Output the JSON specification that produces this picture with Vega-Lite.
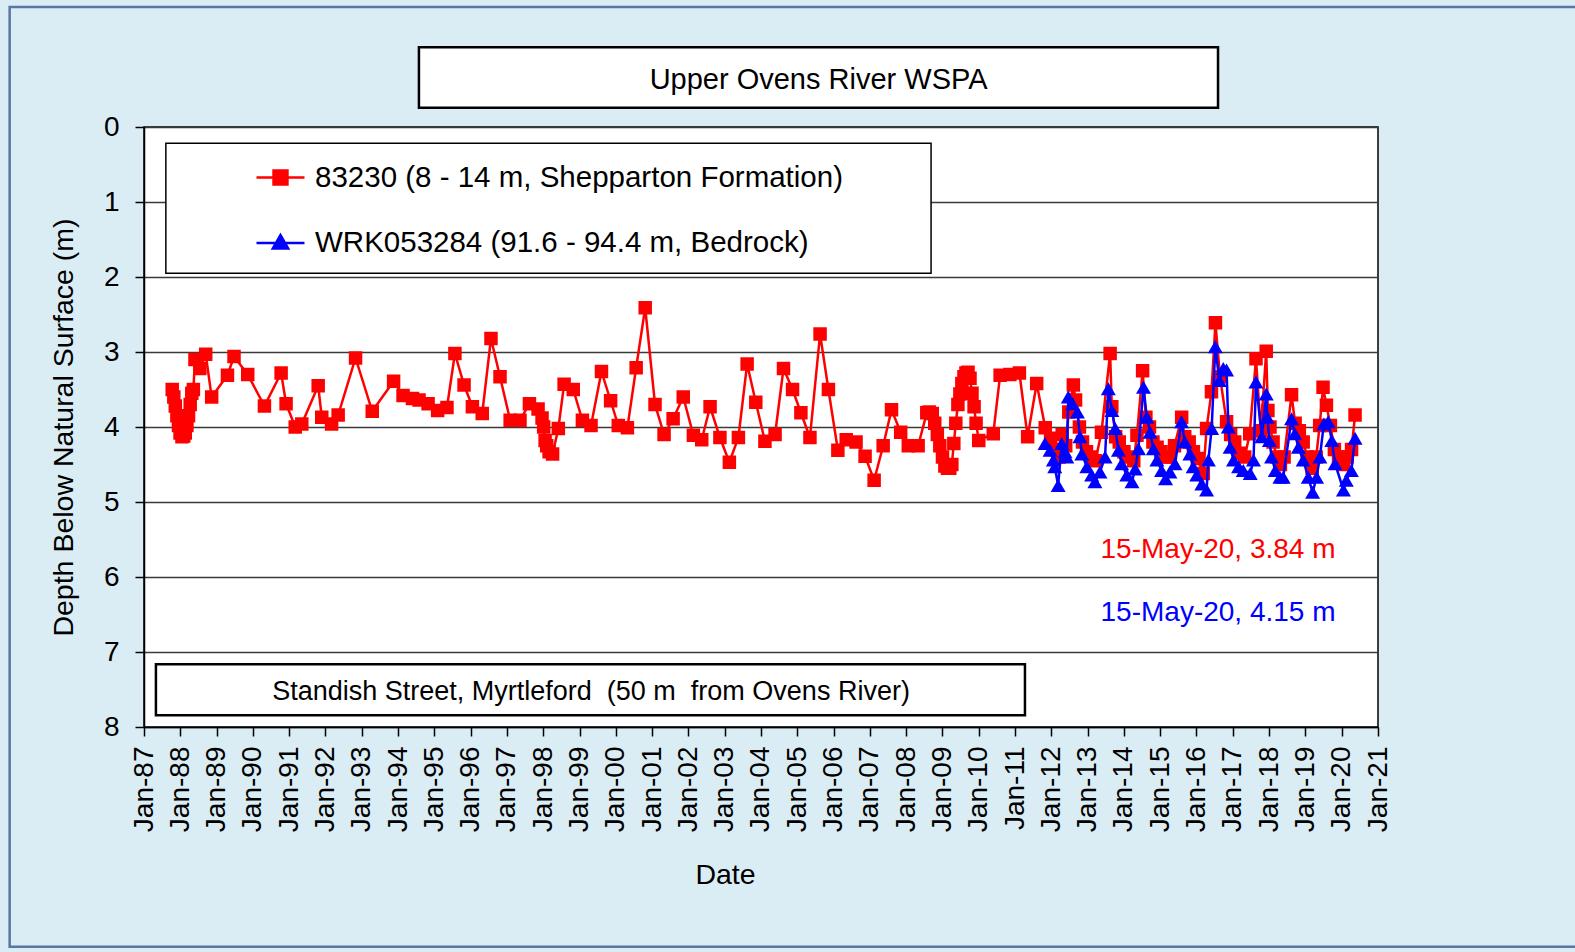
{
  "$schema": "https://vega.github.io/schema/vega-lite/v6.json",
  "width": 1234,
  "height": 600,
  "autosize": {"type": "none"},
  "padding": {"left": 144, "top": 127, "right": 197, "bottom": 225},
  "background": "#DBEDF4",
  "config": {
    "view": {"fill": "white", "stroke": "black", "strokeWidth": 1.5},
    "font": "Liberation Sans",
    "axis": {"labelFont": "Liberation Sans", "titleFont": "Liberation Sans", "labelColor": "black", "titleColor": "black", "titleFontWeight": "normal", "tickColor": "black", "domainColor": "black", "domainWidth": 1.5, "tickWidth": 1.5}
  },
  "datasets": {
    "obs": [
      {"well": "83230", "date": "1987-10-12", "depth": 3.50},
      {"well": "83230", "date": "1987-10-28", "depth": 3.60},
      {"well": "83230", "date": "1987-11-12", "depth": 3.72},
      {"well": "83230", "date": "1987-11-28", "depth": 3.85},
      {"well": "83230", "date": "1987-12-14", "depth": 3.98},
      {"well": "83230", "date": "1987-12-30", "depth": 4.08},
      {"well": "83230", "date": "1988-01-18", "depth": 4.13},
      {"well": "83230", "date": "1988-02-05", "depth": 4.12},
      {"well": "83230", "date": "1988-02-20", "depth": 4.08},
      {"well": "83230", "date": "1988-03-08", "depth": 3.98},
      {"well": "83230", "date": "1988-03-24", "depth": 3.85},
      {"well": "83230", "date": "1988-04-10", "depth": 3.70},
      {"well": "83230", "date": "1988-04-26", "depth": 3.55},
      {"well": "83230", "date": "1988-05-12", "depth": 3.50},
      {"well": "83230", "date": "1988-05-28", "depth": 3.10},
      {"well": "83230", "date": "1988-07-16", "depth": 3.22},
      {"well": "83230", "date": "1988-09-13", "depth": 3.03},
      {"well": "83230", "date": "1988-11-12", "depth": 3.60},
      {"well": "83230", "date": "1989-04-20", "depth": 3.31},
      {"well": "83230", "date": "1989-06-25", "depth": 3.06},
      {"well": "83230", "date": "1989-11-10", "depth": 3.30},
      {"well": "83230", "date": "1990-04-27", "depth": 3.72},
      {"well": "83230", "date": "1990-10-12", "depth": 3.28},
      {"well": "83230", "date": "1990-12-01", "depth": 3.69},
      {"well": "83230", "date": "1991-03-03", "depth": 4.00},
      {"well": "83230", "date": "1991-05-08", "depth": 3.96},
      {"well": "83230", "date": "1991-10-20", "depth": 3.45},
      {"well": "83230", "date": "1991-11-25", "depth": 3.87},
      {"well": "83230", "date": "1992-03-03", "depth": 3.96},
      {"well": "83230", "date": "1992-05-08", "depth": 3.84},
      {"well": "83230", "date": "1992-10-30", "depth": 3.08},
      {"well": "83230", "date": "1993-04-16", "depth": 3.79},
      {"well": "83230", "date": "1993-11-17", "depth": 3.39},
      {"well": "83230", "date": "1994-02-20", "depth": 3.58},
      {"well": "83230", "date": "1994-05-26", "depth": 3.62},
      {"well": "83230", "date": "1994-07-31", "depth": 3.64},
      {"well": "83230", "date": "1994-10-30", "depth": 3.69},
      {"well": "83230", "date": "1995-02-03", "depth": 3.78},
      {"well": "83230", "date": "1995-05-08", "depth": 3.74},
      {"well": "83230", "date": "1995-07-27", "depth": 3.02},
      {"well": "83230", "date": "1995-10-27", "depth": 3.44},
      {"well": "83230", "date": "1996-01-19", "depth": 3.73},
      {"well": "83230", "date": "1996-04-27", "depth": 3.82},
      {"well": "83230", "date": "1996-07-24", "depth": 2.82},
      {"well": "83230", "date": "1996-10-23", "depth": 3.33},
      {"well": "83230", "date": "1997-02-02", "depth": 3.91},
      {"well": "83230", "date": "1997-05-12", "depth": 3.91},
      {"well": "83230", "date": "1997-08-15", "depth": 3.69},
      {"well": "83230", "date": "1997-11-10", "depth": 3.76},
      {"well": "83230", "date": "1997-12-20", "depth": 3.88},
      {"well": "83230", "date": "1998-01-05", "depth": 4.00},
      {"well": "83230", "date": "1998-01-20", "depth": 4.18},
      {"well": "83230", "date": "1998-02-05", "depth": 4.25},
      {"well": "83230", "date": "1998-03-01", "depth": 4.33},
      {"well": "83230", "date": "1998-04-05", "depth": 4.36},
      {"well": "83230", "date": "1998-06-02", "depth": 4.02},
      {"well": "83230", "date": "1998-07-30", "depth": 3.43},
      {"well": "83230", "date": "1998-10-30", "depth": 3.50},
      {"well": "83230", "date": "1999-01-30", "depth": 3.91},
      {"well": "83230", "date": "1999-04-27", "depth": 3.98},
      {"well": "83230", "date": "1999-08-10", "depth": 3.26},
      {"well": "83230", "date": "1999-11-10", "depth": 3.65},
      {"well": "83230", "date": "2000-01-26", "depth": 3.98},
      {"well": "83230", "date": "2000-04-27", "depth": 4.01},
      {"well": "83230", "date": "2000-07-24", "depth": 3.21},
      {"well": "83230", "date": "2000-10-23", "depth": 2.41},
      {"well": "83230", "date": "2001-01-30", "depth": 3.70},
      {"well": "83230", "date": "2001-05-01", "depth": 4.10},
      {"well": "83230", "date": "2001-07-31", "depth": 3.89},
      {"well": "83230", "date": "2001-11-10", "depth": 3.60},
      {"well": "83230", "date": "2002-02-20", "depth": 4.11},
      {"well": "83230", "date": "2002-05-15", "depth": 4.17},
      {"well": "83230", "date": "2002-08-07", "depth": 3.73},
      {"well": "83230", "date": "2002-11-14", "depth": 4.14},
      {"well": "83230", "date": "2003-02-17", "depth": 4.47},
      {"well": "83230", "date": "2003-05-19", "depth": 4.14},
      {"well": "83230", "date": "2003-08-15", "depth": 3.16},
      {"well": "83230", "date": "2003-11-10", "depth": 3.67},
      {"well": "83230", "date": "2004-02-10", "depth": 4.19},
      {"well": "83230", "date": "2004-05-22", "depth": 4.10},
      {"well": "83230", "date": "2004-08-15", "depth": 3.22},
      {"well": "83230", "date": "2004-11-14", "depth": 3.50},
      {"well": "83230", "date": "2005-02-06", "depth": 3.81},
      {"well": "83230", "date": "2005-05-08", "depth": 4.14},
      {"well": "83230", "date": "2005-08-18", "depth": 2.76},
      {"well": "83230", "date": "2005-11-10", "depth": 3.50},
      {"well": "83230", "date": "2006-02-13", "depth": 4.31},
      {"well": "83230", "date": "2006-05-08", "depth": 4.17},
      {"well": "83230", "date": "2006-08-15", "depth": 4.20},
      {"well": "83230", "date": "2006-11-14", "depth": 4.39},
      {"well": "83230", "date": "2007-02-13", "depth": 4.71},
      {"well": "83230", "date": "2007-05-15", "depth": 4.25},
      {"well": "83230", "date": "2007-08-07", "depth": 3.77},
      {"well": "83230", "date": "2007-11-07", "depth": 4.07},
      {"well": "83230", "date": "2008-01-23", "depth": 4.25},
      {"well": "83230", "date": "2008-05-01", "depth": 4.25},
      {"well": "83230", "date": "2008-07-27", "depth": 3.81},
      {"well": "83230", "date": "2008-08-20", "depth": 3.80},
      {"well": "83230", "date": "2008-09-20", "depth": 3.82},
      {"well": "83230", "date": "2008-10-15", "depth": 3.95},
      {"well": "83230", "date": "2008-11-10", "depth": 4.10},
      {"well": "83230", "date": "2008-12-05", "depth": 4.25},
      {"well": "83230", "date": "2009-01-01", "depth": 4.40},
      {"well": "83230", "date": "2009-01-25", "depth": 4.52},
      {"well": "83230", "date": "2009-02-20", "depth": 4.55},
      {"well": "83230", "date": "2009-03-15", "depth": 4.55},
      {"well": "83230", "date": "2009-04-05", "depth": 4.50},
      {"well": "83230", "date": "2009-04-25", "depth": 4.22},
      {"well": "83230", "date": "2009-05-15", "depth": 3.95},
      {"well": "83230", "date": "2009-06-05", "depth": 3.70},
      {"well": "83230", "date": "2009-06-25", "depth": 3.56},
      {"well": "83230", "date": "2009-07-15", "depth": 3.42},
      {"well": "83230", "date": "2009-08-05", "depth": 3.33},
      {"well": "83230", "date": "2009-08-25", "depth": 3.28},
      {"well": "83230", "date": "2009-09-15", "depth": 3.27},
      {"well": "83230", "date": "2009-10-05", "depth": 3.35},
      {"well": "83230", "date": "2009-10-25", "depth": 3.55},
      {"well": "83230", "date": "2009-11-15", "depth": 3.73},
      {"well": "83230", "date": "2009-12-05", "depth": 3.95},
      {"well": "83230", "date": "2010-01-01", "depth": 4.18},
      {"well": "83230", "date": "2010-05-27", "depth": 4.09},
      {"well": "83230", "date": "2010-08-04", "depth": 3.31},
      {"well": "83230", "date": "2010-11-10", "depth": 3.30},
      {"well": "83230", "date": "2011-02-14", "depth": 3.28},
      {"well": "83230", "date": "2011-05-08", "depth": 4.13},
      {"well": "83230", "date": "2011-08-07", "depth": 3.42},
      {"well": "83230", "date": "2011-11-01", "depth": 4.01},
      {"well": "83230", "date": "2011-12-25", "depth": 4.15},
      {"well": "83230", "date": "2012-02-10", "depth": 4.30},
      {"well": "83230", "date": "2012-03-20", "depth": 4.40},
      {"well": "83230", "date": "2012-04-20", "depth": 4.10},
      {"well": "83230", "date": "2012-05-25", "depth": 4.25},
      {"well": "83230", "date": "2012-06-25", "depth": 3.80},
      {"well": "83230", "date": "2012-08-10", "depth": 3.44},
      {"well": "83230", "date": "2012-09-01", "depth": 3.64},
      {"well": "83230", "date": "2012-10-10", "depth": 4.00},
      {"well": "83230", "date": "2012-11-10", "depth": 4.20},
      {"well": "83230", "date": "2012-12-20", "depth": 4.33},
      {"well": "83230", "date": "2013-02-10", "depth": 4.40},
      {"well": "83230", "date": "2013-03-20", "depth": 4.45},
      {"well": "83230", "date": "2013-05-20", "depth": 4.07},
      {"well": "83230", "date": "2013-08-15", "depth": 3.02},
      {"well": "83230", "date": "2013-09-01", "depth": 3.73},
      {"well": "83230", "date": "2013-10-10", "depth": 4.13},
      {"well": "83230", "date": "2013-11-15", "depth": 4.20},
      {"well": "83230", "date": "2014-01-01", "depth": 4.33},
      {"well": "83230", "date": "2014-02-15", "depth": 4.40},
      {"well": "83230", "date": "2014-04-10", "depth": 4.45},
      {"well": "83230", "date": "2014-05-12", "depth": 4.11},
      {"well": "83230", "date": "2014-07-08", "depth": 3.25},
      {"well": "83230", "date": "2014-08-10", "depth": 3.87},
      {"well": "83230", "date": "2014-09-15", "depth": 4.00},
      {"well": "83230", "date": "2014-10-20", "depth": 4.20},
      {"well": "83230", "date": "2014-12-01", "depth": 4.27},
      {"well": "83230", "date": "2015-01-10", "depth": 4.33},
      {"well": "83230", "date": "2015-02-20", "depth": 4.40},
      {"well": "83230", "date": "2015-04-10", "depth": 4.40},
      {"well": "83230", "date": "2015-05-25", "depth": 4.25},
      {"well": "83230", "date": "2015-08-05", "depth": 3.87},
      {"well": "83230", "date": "2015-09-05", "depth": 4.13},
      {"well": "83230", "date": "2015-10-20", "depth": 4.20},
      {"well": "83230", "date": "2015-12-01", "depth": 4.33},
      {"well": "83230", "date": "2016-01-10", "depth": 4.42},
      {"well": "83230", "date": "2016-03-10", "depth": 4.62},
      {"well": "83230", "date": "2016-04-12", "depth": 4.02},
      {"well": "83230", "date": "2016-05-31", "depth": 3.53},
      {"well": "83230", "date": "2016-07-10", "depth": 2.61},
      {"well": "83230", "date": "2016-08-25", "depth": 3.33},
      {"well": "83230", "date": "2016-10-30", "depth": 3.93},
      {"well": "83230", "date": "2016-12-10", "depth": 4.10},
      {"well": "83230", "date": "2017-01-20", "depth": 4.20},
      {"well": "83230", "date": "2017-03-10", "depth": 4.35},
      {"well": "83230", "date": "2017-05-01", "depth": 4.40},
      {"well": "83230", "date": "2017-06-20", "depth": 4.09},
      {"well": "83230", "date": "2017-08-22", "depth": 3.09},
      {"well": "83230", "date": "2017-10-10", "depth": 4.05},
      {"well": "83230", "date": "2017-12-03", "depth": 2.99},
      {"well": "83230", "date": "2017-12-20", "depth": 3.78},
      {"well": "83230", "date": "2018-01-10", "depth": 4.00},
      {"well": "83230", "date": "2018-02-10", "depth": 4.20},
      {"well": "83230", "date": "2018-03-20", "depth": 4.40},
      {"well": "83230", "date": "2018-04-25", "depth": 4.50},
      {"well": "83230", "date": "2018-06-01", "depth": 4.40},
      {"well": "83230", "date": "2018-08-15", "depth": 3.57},
      {"well": "83230", "date": "2018-09-20", "depth": 3.95},
      {"well": "83230", "date": "2018-11-01", "depth": 4.05},
      {"well": "83230", "date": "2018-12-10", "depth": 4.20},
      {"well": "83230", "date": "2019-01-20", "depth": 4.40},
      {"well": "83230", "date": "2019-03-10", "depth": 4.55},
      {"well": "83230", "date": "2019-04-20", "depth": 4.40},
      {"well": "83230", "date": "2019-05-25", "depth": 3.98},
      {"well": "83230", "date": "2019-06-28", "depth": 3.47},
      {"well": "83230", "date": "2019-08-01", "depth": 3.71},
      {"well": "83230", "date": "2019-09-10", "depth": 3.98},
      {"well": "83230", "date": "2019-10-20", "depth": 4.30},
      {"well": "83230", "date": "2019-12-01", "depth": 4.40},
      {"well": "83230", "date": "2020-01-20", "depth": 4.50},
      {"well": "83230", "date": "2020-02-25", "depth": 4.40},
      {"well": "83230", "date": "2020-04-10", "depth": 4.30},
      {"well": "83230", "date": "2020-05-15", "depth": 3.84},
      {"well": "WRK053284", "date": "2011-10-30", "depth": 4.22},
      {"well": "WRK053284", "date": "2011-12-20", "depth": 4.31},
      {"well": "WRK053284", "date": "2012-01-22", "depth": 4.44},
      {"well": "WRK053284", "date": "2012-02-05", "depth": 4.53},
      {"well": "WRK053284", "date": "2012-03-10", "depth": 4.78},
      {"well": "WRK053284", "date": "2012-04-15", "depth": 4.22},
      {"well": "WRK053284", "date": "2012-05-18", "depth": 4.33},
      {"well": "WRK053284", "date": "2012-06-05", "depth": 4.40},
      {"well": "WRK053284", "date": "2012-06-20", "depth": 3.60},
      {"well": "WRK053284", "date": "2012-08-03", "depth": 3.69},
      {"well": "WRK053284", "date": "2012-09-20", "depth": 3.80},
      {"well": "WRK053284", "date": "2012-10-15", "depth": 4.13},
      {"well": "WRK053284", "date": "2012-11-03", "depth": 4.36},
      {"well": "WRK053284", "date": "2012-12-24", "depth": 4.53},
      {"well": "WRK053284", "date": "2013-02-10", "depth": 4.64},
      {"well": "WRK053284", "date": "2013-03-15", "depth": 4.73},
      {"well": "WRK053284", "date": "2013-05-05", "depth": 4.60},
      {"well": "WRK053284", "date": "2013-06-25", "depth": 4.40},
      {"well": "WRK053284", "date": "2013-07-28", "depth": 3.49},
      {"well": "WRK053284", "date": "2013-09-02", "depth": 3.78},
      {"well": "WRK053284", "date": "2013-10-05", "depth": 4.02},
      {"well": "WRK053284", "date": "2013-11-07", "depth": 4.31},
      {"well": "WRK053284", "date": "2013-12-09", "depth": 4.49},
      {"well": "WRK053284", "date": "2014-01-30", "depth": 4.64},
      {"well": "WRK053284", "date": "2014-03-23", "depth": 4.73},
      {"well": "WRK053284", "date": "2014-04-24", "depth": 4.56},
      {"well": "WRK053284", "date": "2014-05-27", "depth": 4.29},
      {"well": "WRK053284", "date": "2014-07-17", "depth": 3.47},
      {"well": "WRK053284", "date": "2014-08-19", "depth": 3.87},
      {"well": "WRK053284", "date": "2014-09-21", "depth": 4.07},
      {"well": "WRK053284", "date": "2014-10-24", "depth": 4.29},
      {"well": "WRK053284", "date": "2014-11-29", "depth": 4.44},
      {"well": "WRK053284", "date": "2015-01-15", "depth": 4.58},
      {"well": "WRK053284", "date": "2015-02-24", "depth": 4.69},
      {"well": "WRK053284", "date": "2015-04-09", "depth": 4.60},
      {"well": "WRK053284", "date": "2015-05-30", "depth": 4.49},
      {"well": "WRK053284", "date": "2015-08-04", "depth": 3.93},
      {"well": "WRK053284", "date": "2015-09-06", "depth": 4.20},
      {"well": "WRK053284", "date": "2015-10-27", "depth": 4.36},
      {"well": "WRK053284", "date": "2015-11-29", "depth": 4.53},
      {"well": "WRK053284", "date": "2016-01-04", "depth": 4.64},
      {"well": "WRK053284", "date": "2016-02-24", "depth": 4.76},
      {"well": "WRK053284", "date": "2016-04-12", "depth": 4.84},
      {"well": "WRK053284", "date": "2016-04-30", "depth": 4.44},
      {"well": "WRK053284", "date": "2016-06-02", "depth": 4.02},
      {"well": "WRK053284", "date": "2016-07-09", "depth": 2.93},
      {"well": "WRK053284", "date": "2016-08-18", "depth": 3.38},
      {"well": "WRK053284", "date": "2016-09-27", "depth": 3.22},
      {"well": "WRK053284", "date": "2016-10-30", "depth": 3.24},
      {"well": "WRK053284", "date": "2016-11-17", "depth": 4.00},
      {"well": "WRK053284", "date": "2016-12-05", "depth": 4.27},
      {"well": "WRK053284", "date": "2017-01-08", "depth": 4.44},
      {"well": "WRK053284", "date": "2017-02-28", "depth": 4.53},
      {"well": "WRK053284", "date": "2017-04-16", "depth": 4.58},
      {"well": "WRK053284", "date": "2017-06-25", "depth": 4.62},
      {"well": "WRK053284", "date": "2017-07-28", "depth": 4.44},
      {"well": "WRK053284", "date": "2017-08-22", "depth": 3.40},
      {"well": "WRK053284", "date": "2017-10-20", "depth": 4.13},
      {"well": "WRK053284", "date": "2017-12-03", "depth": 3.56},
      {"well": "WRK053284", "date": "2017-12-14", "depth": 3.87},
      {"well": "WRK053284", "date": "2018-01-04", "depth": 4.18},
      {"well": "WRK053284", "date": "2018-01-26", "depth": 4.40},
      {"well": "WRK053284", "date": "2018-03-04", "depth": 4.58},
      {"well": "WRK053284", "date": "2018-04-20", "depth": 4.67},
      {"well": "WRK053284", "date": "2018-05-23", "depth": 4.67},
      {"well": "WRK053284", "date": "2018-08-15", "depth": 3.89},
      {"well": "WRK053284", "date": "2018-09-17", "depth": 4.09},
      {"well": "WRK053284", "date": "2018-10-23", "depth": 4.27},
      {"well": "WRK053284", "date": "2018-12-10", "depth": 4.44},
      {"well": "WRK053284", "date": "2019-01-30", "depth": 4.67},
      {"well": "WRK053284", "date": "2019-03-15", "depth": 4.87},
      {"well": "WRK053284", "date": "2019-04-24", "depth": 4.67},
      {"well": "WRK053284", "date": "2019-05-27", "depth": 4.40},
      {"well": "WRK053284", "date": "2019-07-06", "depth": 3.96},
      {"well": "WRK053284", "date": "2019-08-19", "depth": 3.93},
      {"well": "WRK053284", "date": "2019-09-24", "depth": 4.18},
      {"well": "WRK053284", "date": "2019-10-27", "depth": 4.49},
      {"well": "WRK053284", "date": "2020-01-19", "depth": 4.84},
      {"well": "WRK053284", "date": "2020-02-17", "depth": 4.71},
      {"well": "WRK053284", "date": "2020-04-08", "depth": 4.58},
      {"well": "WRK053284", "date": "2020-05-15", "depth": 4.15}
    ]
  },
  "layer": [
    {
      "data": {"values": [{"box": "frame"}]},
      "mark": {"type": "rect", "fillOpacity": 0, "stroke": "#5877A3", "strokeWidth": 2.5, "clip": false},
      "encoding": {
        "x": {"datum": 419644800000, "type": "temporal"},
        "x2": {"datum": 1796083200000},
        "y": {"datum": -1.6, "type": "quantitative"},
        "y2": {"datum": 10.93}
      }
    },
    {
      "data": {"values": [{"box": "title"}]},
      "mark": {"type": "rect", "fill": "white", "stroke": "black", "strokeWidth": 2.5, "clip": false},
      "encoding": {
        "x": {"datum": 775526400000, "type": "temporal"},
        "x2": {"datum": 1470355200000},
        "y": {"datum": -1.063, "type": "quantitative"},
        "y2": {"datum": -0.256}
      }
    },
    {
      "data": {"values": [{"label": "Upper Ovens River WSPA"}]},
      "mark": {"type": "text", "fontSize": 29, "font": "Liberation Sans", "color": "black", "baseline": "middle", "align": "center", "clip": false},
      "encoding": {
        "x": {"datum": 1123027200000, "type": "temporal"},
        "y": {"datum": -0.63, "type": "quantitative"},
        "text": {"field": "label"}
      }
    },
    {
      "data": {"values": [{"box": "legend"}]},
      "mark": {"type": "rect", "fill": "white", "stroke": "black", "strokeWidth": 1.5, "clip": false},
      "encoding": {
        "x": {"datum": 555465600000, "type": "temporal"},
        "x2": {"datum": 1220832000000},
        "y": {"datum": 0.217, "type": "quantitative"},
        "y2": {"datum": 1.951}
      }
    },
    {
      "data": {"values": [{"box": "site"}]},
      "mark": {"type": "rect", "fill": "white", "stroke": "black", "strokeWidth": 2.5, "clip": false},
      "encoding": {
        "x": {"datum": 546825600000, "type": "temporal"},
        "x2": {"datum": 1302480000000},
        "y": {"datum": 7.164, "type": "quantitative"},
        "y2": {"datum": 7.843}
      }
    },
    {
      "data": {"values": [{"label": "Standish Street, Myrtleford \u00a0(50 m \u00a0from Ovens River)"}]},
      "mark": {"type": "text", "fontSize": 27, "font": "Liberation Sans", "color": "black", "baseline": "middle", "align": "center", "clip": false},
      "encoding": {
        "x": {"datum": 925171200000, "type": "temporal"},
        "y": {"datum": 7.537, "type": "quantitative"},
        "text": {"field": "label"}
      }
    },
    {
      "data": {"name": "obs"},
      "transform": [{"filter": "datum.well == '83230'"}],
      "mark": {"type": "line", "strokeWidth": 2.5, "point": {"shape": "square", "filled": true, "size": 182, "opacity": 1}},
      "encoding": {
        "x": {
          "field": "date", "type": "temporal",
          "scale": {"domain": [536457600000, 1609459200000], "nice": false},
          "axis": {"title": "Date", "format": "%b-%y", "tickCount": {"interval": "year", "step": 1}, "labelAngle": 270, "labelFontSize": 28, "labelPadding": 10, "labelOverlap": false, "labelFlush": false, "labelBound": false, "tickSize": 9, "grid": false, "titleFontSize": 28.5, "titleX": 581, "titleY": 147, "titleBaseline": "middle", "titleAlign": "center"}
        },
        "y": {
          "field": "depth", "type": "quantitative",
          "scale": {"domain": [0, 8], "reverse": true, "nice": false, "zero": false},
          "axis": {"title": "Depth Below Natural Surface (m)", "values": [0, 1, 2, 3, 4, 5, 6, 7, 8], "format": "d", "labelFontSize": 28, "labelPadding": 16, "labelFlush": false, "tickSize": 9, "grid": true, "gridColor": "#3a3a3a", "gridWidth": 1.5, "titleFontSize": 28.5, "titlePadding": 25}
        },
        "color": {
          "field": "well", "type": "nominal",
          "scale": {"domain": ["83230", "WRK053284"], "range": ["#FF0000", "#0000FF"]},
          "legend": {
            "title": null, "orient": "none", "legendX": 111, "legendY": 25, "padding": 0,
            "symbolSize": 2304, "symbolStrokeWidth": 2.5, "rowPadding": 25.5, "labelOffset": 9,
            "labelFontSize": 29.5, "labelFont": "Liberation Sans", "labelColor": "black", "labelLimit": 0,
            "labelExpr": "datum.value == '83230' ? '83230 (8 - 14 m, Shepparton Formation)' : 'WRK053284 (91.6 - 94.4 m, Bedrock)'",
            "encoding": {"symbols": {
              "shape": {"value": {"expr": "datum.value == '83230' ? 'M-1,0H1M-0.29,-0.29H0.29V0.29H-0.29Z' : 'M-1,0H1M0,-0.33L0.32,0.23L-0.32,0.23Z'"}},
              "fill": {"value": {"expr": "datum.value == '83230' ? '#FF0000' : '#0000FF'"}},
              "stroke": {"value": {"expr": "datum.value == '83230' ? '#FF0000' : '#0000FF'"}},
              "opacity": {"value": 1}
            }}
          }
        }
      }
    },
    {
      "data": {"name": "obs"},
      "transform": [{"filter": "datum.well == 'WRK053284'"}],
      "mark": {"type": "line", "strokeWidth": 2.5, "point": {"shape": "triangle-up", "filled": true, "size": 225, "opacity": 1}},
      "encoding": {
        "x": {
          "field": "date", "type": "temporal",
          "scale": {"domain": [536457600000, 1609459200000], "nice": false},
          "axis": {"title": "Date", "format": "%b-%y", "tickCount": {"interval": "year", "step": 1}, "labelAngle": 270, "labelFontSize": 28, "labelPadding": 10, "labelOverlap": false, "labelFlush": false, "labelBound": false, "tickSize": 9, "grid": false, "titleFontSize": 28.5, "titleX": 581, "titleY": 147, "titleBaseline": "middle", "titleAlign": "center"}
        },
        "y": {
          "field": "depth", "type": "quantitative",
          "scale": {"domain": [0, 8], "reverse": true, "nice": false, "zero": false},
          "axis": {"title": "Depth Below Natural Surface (m)", "values": [0, 1, 2, 3, 4, 5, 6, 7, 8], "format": "d", "labelFontSize": 28, "labelPadding": 16, "labelFlush": false, "tickSize": 9, "grid": true, "gridColor": "#3a3a3a", "gridWidth": 1.5, "titleFontSize": 28.5, "titlePadding": 25}
        },
        "color": {
          "field": "well", "type": "nominal",
          "scale": {"domain": ["83230", "WRK053284"], "range": ["#FF0000", "#0000FF"]},
          "legend": {
            "title": null, "orient": "none", "legendX": 111, "legendY": 25, "padding": 0,
            "symbolSize": 2304, "symbolStrokeWidth": 2.5, "rowPadding": 25.5, "labelOffset": 9,
            "labelFontSize": 29.5, "labelFont": "Liberation Sans", "labelColor": "black", "labelLimit": 0,
            "labelExpr": "datum.value == '83230' ? '83230 (8 - 14 m, Shepparton Formation)' : 'WRK053284 (91.6 - 94.4 m, Bedrock)'",
            "encoding": {"symbols": {
              "shape": {"value": {"expr": "datum.value == '83230' ? 'M-1,0H1M-0.29,-0.29H0.29V0.29H-0.29Z' : 'M-1,0H1M0,-0.33L0.32,0.23L-0.32,0.23Z'"}},
              "fill": {"value": {"expr": "datum.value == '83230' ? '#FF0000' : '#0000FF'"}},
              "stroke": {"value": {"expr": "datum.value == '83230' ? '#FF0000' : '#0000FF'"}},
              "opacity": {"value": 1}
            }}
          }
        }
      }
    },
    {
      "data": {"values": [{"label": "15-May-20, 3.84 m"}]},
      "mark": {"type": "text", "fontSize": 28, "font": "Liberation Sans", "color": "#FF0000", "baseline": "middle", "align": "center", "clip": false},
      "encoding": {
        "x": {"datum": 1470355200000, "type": "temporal"},
        "y": {"datum": 5.637, "type": "quantitative"},
        "text": {"field": "label"}
      }
    },
    {
      "data": {"values": [{"label": "15-May-20, 4.15 m"}]},
      "mark": {"type": "text", "fontSize": 28, "font": "Liberation Sans", "color": "#0000FF", "baseline": "middle", "align": "center", "clip": false},
      "encoding": {
        "x": {"datum": 1470355200000, "type": "temporal"},
        "y": {"datum": 6.48, "type": "quantitative"},
        "text": {"field": "label"}
      }
    }
  ]
}
